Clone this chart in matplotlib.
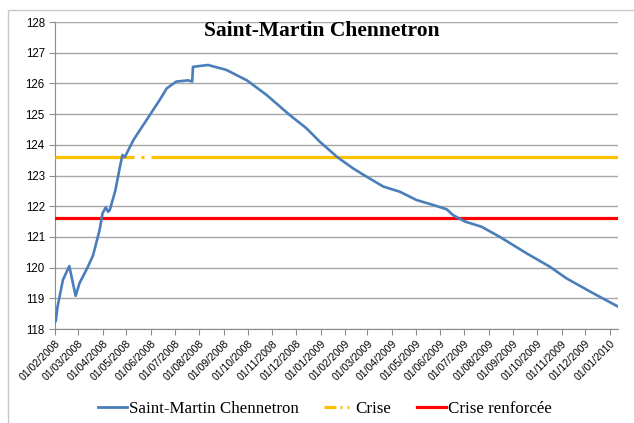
import matplotlib
matplotlib.use("Agg")
import matplotlib.pyplot as plt
from matplotlib.lines import Line2D
from matplotlib.patches import Rectangle
import numpy as np
import pandas as pd

# water level readings
level_dates = [
    "2008-02-01", "2008-02-02", "2008-02-04", "2008-02-11", "2008-02-19",
    "2008-02-27", "2008-03-03", "2008-03-13", "2008-03-20", "2008-03-28",
    "2008-04-01", "2008-04-05", "2008-04-08", "2008-04-10", "2008-04-17",
    "2008-04-23", "2008-04-26", "2008-04-29", "2008-05-10", "2008-06-12",
    "2008-06-21", "2008-07-03", "2008-07-18", "2008-07-23", "2008-07-24",
    "2008-08-12", "2008-09-04", "2008-09-30", "2008-10-25", "2008-11-23",
    "2008-12-14", "2008-12-31", "2009-01-22", "2009-02-11", "2009-02-28",
    "2009-03-21", "2009-04-11", "2009-05-02", "2009-05-23", "2009-06-09",
    "2009-06-17", "2009-07-02", "2009-07-23", "2009-08-15", "2009-09-18",
    "2009-10-17", "2009-11-07", "2009-12-11", "2010-01-11",
]
level_values = [
    118.24, 118.26, 118.7, 119.6, 120.05,
    119.08, 119.5, 120.0, 120.4, 121.2,
    121.77, 121.96, 121.82, 121.87, 122.5,
    123.3, 123.67, 123.6, 124.16, 125.46,
    125.84, 126.06, 126.1, 126.06, 126.54,
    126.6, 126.44, 126.1, 125.62, 124.97,
    124.54, 124.1, 123.6, 123.23, 122.96,
    122.64, 122.47, 122.2, 122.04, 121.9,
    121.71, 121.5, 121.33, 121.0, 120.46,
    120.03, 119.65, 119.16, 118.73,
]

crise_dates = ["2008-02-01", "2008-05-10", "2008-05-15", "2008-05-20",
               "2008-05-23", "2008-05-27", "2008-06-01", "2010-01-11"]
crise_values = [123.6, 123.6, np.nan, 123.6, 123.6, np.nan, 123.6, 123.6]

renforcee_dates = ["2008-02-01", "2010-01-11"]
renforcee_values = [121.6, 121.6]

tick_months = pd.date_range("2008-02-01", "2010-01-01", freq="MS")
tick_labels = [d.strftime("%d/%m/%Y") for d in tick_months]

BLUE = "#4a7ebb"
YELLOW = "#ffc000"
RED = "#ff0000"

fig = plt.figure(figsize=(6.34, 4.23), dpi=100)
fig.patches.append(Rectangle((8 / 634, -0.05), 1.2, 1 - 10 / 423 + 0.05,
                             transform=fig.transFigure, fill=False,
                             edgecolor="#c8c8c8", linewidth=1.0))

ax = fig.add_axes([55 / 634, 1 - 329 / 423, (618 - 55) / 634, (329 - 22) / 423])

ax.plot(pd.to_datetime(crise_dates), crise_values, color=YELLOW, linewidth=2.3,
        solid_capstyle="butt", zorder=3)
ax.plot(pd.to_datetime(renforcee_dates), renforcee_values, color=RED,
        linewidth=2.3, zorder=3)
ax.plot(pd.to_datetime(level_dates), level_values, color=BLUE, linewidth=1.9,
        zorder=4)

ax.set_xlim(pd.Timestamp("2008-02-01"), pd.Timestamp("2010-01-11"))
ax.set_ylim(118, 128)
ax.set_yticks(np.arange(118, 129, 1))
ax.set_xticks(tick_months)
ax.set_xticklabels(tick_labels, rotation=45, ha="right", va="top",
                   rotation_mode="anchor", fontsize=7.6,
                   family="Liberation Sans")
for lbl in ax.get_yticklabels():
    lbl.set_family("Liberation Sans")
    lbl.set_fontsize(8.3)

ax.grid(axis="y", color="#a6a6a6", linewidth=1.0)
ax.set_axisbelow(True)
for side in ["top", "right"]:
    ax.spines[side].set_visible(False)
for side in ["left", "bottom"]:
    ax.spines[side].set_color("#8c8c8c")
ax.tick_params(axis="both", color="#8c8c8c", length=4, width=0.8,
               labelcolor="black")
ax.tick_params(axis="y", pad=3.3)
ax.tick_params(axis="x", pad=3)

fig.text(322 / 634, 1 - 31 / 423, "Saint-Martin Chennetron",
         family="Liberation Serif", fontweight="bold", fontsize=15.5,
         ha="center", va="center")

handles = [
    Line2D([], [], color=BLUE, linewidth=2.0),
    Line2D([], [], color=YELLOW, linewidth=2.3,
           linestyle=(0, (3.7, 1.3, 0.6, 1.6, 0.6, 2.0))),
    Line2D([], [], color=RED, linewidth=2.3),
]
labels = ["Saint-Martin Chennetron", "Crise", "Crise renforcée"]
fig.legend(handles, labels, loc="center", bbox_to_anchor=(325 / 634, 1 - 409 / 423),
           ncol=3, frameon=False, prop={"family": "Liberation Serif", "size": 12.2},
           handlelength=1.7, handletextpad=0.15, columnspacing=1.5)

fig.savefig("out.png", dpi=100)
